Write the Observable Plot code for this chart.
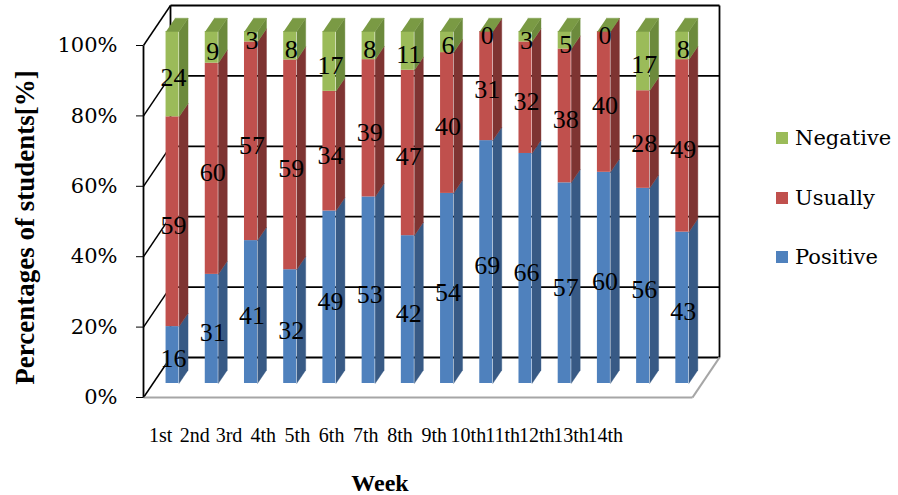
<!DOCTYPE html>
<html>
<head>
<meta charset="utf-8">
<script src="https://cdn.jsdelivr.net/npm/d3@7"></script>
<script src="https://cdn.jsdelivr.net/npm/@observablehq/plot@0.6"></script>
<style>
  body { margin: 0; background: #fff; }
  #chart { position: relative; width: 898px; height: 495px; }
  .legend { position: absolute; left: 776px; top: 0; font-family: "DejaVu Serif", serif; font-size: 21px; color: #000; }
  .item { position: absolute; left: 0; display: flex; align-items: center; white-space: nowrap; transform: translateY(-50%); }
  .swatch { width: 12px; height: 12px; margin-right: 7px; }
</style>
</head>
<body>
<div id="chart"></div>
<script>
// Weekly survey: share of students per attitude
const weeks = ["1st","2nd","3rd","4th","5th","6th","7th","8th","9th","10th","11th","12th","13th","14th"];
const positive = [16, 31, 41, 32, 49, 53, 42, 54, 69, 66, 57, 60, 56, 43];
const usually  = [59, 60, 57, 59, 34, 39, 47, 40, 31, 32, 38, 40, 28, 49];
const negative = [24,  9,  3,  8, 17,  8, 11,  6,  0,  3,  5,  0, 17,  8];
const series = ["Positive", "Usually", "Negative"];
const yTicks = [0, 0.2, 0.4, 0.6, 0.8, 1];

const frontColor = {Positive: "#4F81BD", Usually: "#C0504D", Negative: "#9BBB59"};
const sideColor  = {Positive: "#385A85", Usually: "#7E3432", Negative: "#6C8A3C"};
const topColor = "#7A9A44";

const width = 898, height = 495;
const margin = {top: 45, right: 206, bottom: 98, left: 143};
const pxX = (width - margin.left - margin.right) / weeks.length; // pixels per category
const pxY = height - margin.top - margin.bottom;                 // pixels per 100%

// Depth of the box (back wall offset) expressed in data units
const wallDX = 27 / pxX, wallDY = 40 / pxY;
const barFront = 0.35, barBack = 0.683, halfW = 6.5 / pxX;
const at = (x, y, f) => ({x: x + f * wallDX, y: y + f * wallDY});
const xMin = -0.5, xMax = weeks.length - 0.5;

// 100% stacked segments
const segments = [];
weeks.forEach((w, i) => {
  const vals = [positive[i], usually[i], negative[i]];
  const total = d3.sum(vals);
  let acc = 0;
  vals.forEach((v, k) => {
    const y0 = acc / total; acc += v; const y1 = acc / total;
    segments.push({i, week: w, series: series[k], value: v, y0, y1});
  });
});

const sidePoly = d => [
  at(d.i + halfW, d.y0, barFront), at(d.i + halfW, d.y0, barBack),
  at(d.i + halfW, d.y1, barBack), at(d.i + halfW, d.y1, barFront)
].map(p => ({...p, key: `${d.i}-${d.series}`}));

const topPoly = weeks.flatMap((w, i) => [
  at(i - halfW, 1, barFront), at(i + halfW, 1, barFront),
  at(i + halfW, 1, barBack), at(i - halfW, 1, barBack)
].map(p => ({...p, key: w})));

const link = (data, f) => Plot.link(data, f);

const marks = [
  // back wall grid and edges
  link(yTicks, {x1: () => xMin + wallDX, x2: () => xMax + wallDX, y1: t => t + wallDY, y2: t => t + wallDY, stroke: "#000", strokeWidth: 1.8}),
  link([xMin, xMax], {x1: x => x + wallDX, x2: x => x + wallDX, y1: () => wallDY, y2: () => 1 + wallDY, stroke: "#000", strokeWidth: 1.8}),
  // side wall diagonals
  link(yTicks, {x1: () => xMin, x2: () => xMin + wallDX, y1: t => t, y2: t => t + wallDY, stroke: "#000", strokeWidth: 1.5}),
  // floor edges
  link([0], {x1: () => xMin, x2: () => xMax, y1: () => 0, y2: () => 0, stroke: "#A6A6A6", strokeWidth: 2.2}),
  link([0], {x1: () => xMax, x2: () => xMax + wallDX, y1: () => 0, y2: () => wallDY, stroke: "#A6A6A6", strokeWidth: 2.2}),
  // value axis line
  link([0], {x1: () => xMin, x2: () => xMin, y1: () => 0, y2: () => 1, stroke: "#000", strokeWidth: 1.8})
];

// bars: side faces, front faces, top face
for (const s of series) {
  const segs = segments.filter(d => d.series === s);
  marks.push(Plot.line(segs.flatMap(sidePoly), {x: "x", y: "y", z: "key", fill: sideColor[s], stroke: sideColor[s], strokeWidth: 0.4}));
  marks.push(Plot.rect(segs, {
    x1: d => d.i - halfW + barFront * wallDX,
    x2: d => d.i + halfW + barFront * wallDX,
    y1: d => d.y0 + barFront * wallDY,
    y2: d => d.y1 + barFront * wallDY,
    fill: frontColor[s]
  }));
}
marks.push(Plot.line(topPoly, {x: "x", y: "y", z: "key", fill: topColor, stroke: topColor, strokeWidth: 0.4}));

// value labels
marks.push(Plot.text(segments, {
  x: d => d.i + barFront * wallDX,
  y: d => (d.y0 + d.y1) / 2 + barFront * wallDY,
  text: d => String(d.value),
  dx: 1, dy: 4,
  fontFamily: "Liberation Serif", fontSize: 26, fill: "#000"
}));

// category labels (packed tighter than the bars)
const labelStep = 34.2 / pxX;
marks.push(Plot.text(weeks, {
  x: (d, i) => xMin + (i + 0.5) * labelStep,
  frameAnchor: "bottom", dy: 38,
  textAnchor: "middle", lineAnchor: "middle",
  fontFamily: "Liberation Serif", fontSize: 20, fill: "#000"
}));

// axis titles
marks.push(Plot.text(["Percentages of students[%]"], {
  frameAnchor: "left", rotate: -90, dx: -118, dy: 6,
  textAnchor: "middle", lineAnchor: "middle",
  fontFamily: "Liberation Serif", fontWeight: "bold", fontSize: 27, fill: "#000"
}));
marks.push(Plot.text(["Week"], {
  frameAnchor: "bottom", dx: -38, dy: 86,
  textAnchor: "middle", lineAnchor: "middle",
  fontFamily: "Liberation Serif", fontWeight: "bold", fontSize: 24, fill: "#000"
}));

const chart = Plot.plot({
  width, height,
  marginTop: margin.top, marginRight: margin.right, marginBottom: margin.bottom, marginLeft: margin.left,
  style: {fontFamily: "DejaVu Serif", fontSize: "21px", background: "#fff", color: "#000", overflow: "visible"},
  x: {domain: [xMin, xMax], axis: null},
  y: {domain: [0, 1], ticks: 5, tickFormat: d3.format(".0%"), tickSize: 7, tickPadding: 19, label: null},
  marks
});

const root = document.getElementById("chart");
root.appendChild(chart);

// legend
const legend = document.createElement("div");
legend.className = "legend";
const legendRows = [["Negative", 138], ["Usually", 198], ["Positive", 257]];
for (const [name, cy] of legendRows) {
  const item = document.createElement("div");
  item.className = "item";
  item.style.top = cy + "px";
  const sw = document.createElement("span");
  sw.className = "swatch";
  sw.style.background = frontColor[name];
  const label = document.createElement("span");
  label.textContent = name;
  item.append(sw, label);
  legend.appendChild(item);
}
root.appendChild(legend);
</script>
</body>
</html>
